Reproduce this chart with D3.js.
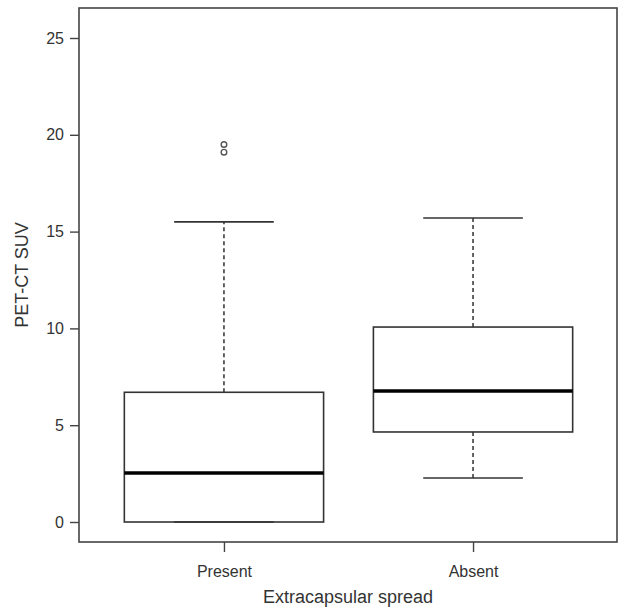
<!DOCTYPE html>
<html>
<head>
<meta charset="utf-8">
<script src="https://cdn.jsdelivr.net/npm/d3@7"></script>
<style>
  body { margin: 0; background: #fff; }
  text { font-family: "Liberation Sans", Arial, sans-serif; fill: #333; }
</style>
</head>
<body>
<svg id="chart" width="621" height="608"></svg>
<script>
// Box statistics
const groups = ["Present", "Absent"];
const lowerWhisker = [0, 2.27];
const q1 = [0, 4.65];
const median = [2.53, 6.77];
const q3 = [6.7, 10.07];
const upperWhisker = [15.5, 15.7];
const outliers = [[19.1, 19.5], []];
const yTicks = [0, 5, 10, 15, 20, 25];

const width = 621, height = 608;
const plot = { left: 79, right: 617, top: 8, bottom: 542 };

const svg = d3.select('#chart');

// R style: groups at 1..n, domain padded 4%
const xScale = d3.scaleLinear()
  .domain([0.418, 2.578])
  .range([plot.left, plot.right]);

const yScale = d3.scaleLinear()
  .domain([0, 25])
  .range([522, 38]);

const boxHalf = 0.4, capHalf = 0.2;
const ink = '#222';

// frame
svg.append('rect')
  .attr('x', plot.left).attr('y', plot.top)
  .attr('width', plot.right - plot.left).attr('height', plot.bottom - plot.top)
  .attr('fill', 'none').attr('stroke', '#444').attr('stroke-width', 1.6);

// y axis
const yAxis = svg.append('g')
  .attr('transform', `translate(${plot.left},0)`)
  .call(d3.axisLeft(yScale).tickValues(yTicks).tickSize(9).tickPadding(6));
yAxis.select('.domain').remove();
yAxis.selectAll('line').attr('stroke', '#444').attr('stroke-width', 1.4);
yAxis.selectAll('text').attr('font-size', 16).attr('fill', '#333')
  .style('font-family', '"Liberation Sans", Arial, sans-serif');

// x axis
const xAxis = svg.append('g')
  .attr('transform', `translate(0,${plot.bottom})`)
  .call(d3.axisBottom(xScale).tickValues([1, 2])
    .tickFormat((d) => groups[d - 1]).tickSize(10).tickPadding(14));
xAxis.select('.domain').remove();
xAxis.selectAll('line').attr('stroke', '#444').attr('stroke-width', 1.4);
xAxis.selectAll('text').attr('font-size', 16).attr('fill', '#333')
  .style('font-family', '"Liberation Sans", Arial, sans-serif');

// axis titles
svg.append('text')
  .attr('x', (plot.left + plot.right) / 2).attr('y', 603)
  .attr('text-anchor', 'middle').attr('font-size', 18)
  .text('Extracapsular spread');

svg.append('text')
  .attr('transform', `translate(28,${(plot.top + plot.bottom) / 2}) rotate(-90)`)
  .attr('text-anchor', 'middle').attr('font-size', 18)
  .text('PET-CT SUV');

// boxes
const boxes = svg.append('g')
  .selectAll('g')
  .data(groups.map((g, i) => ({ g, i, pos: i + 1 })))
  .join('g');

// whiskers (dashed)
boxes.append('line')
  .attr('x1', (d) => xScale(d.pos)).attr('x2', (d) => xScale(d.pos))
  .attr('y1', (d) => yScale(q3[d.i])).attr('y2', (d) => yScale(upperWhisker[d.i]))
  .attr('stroke', ink).attr('stroke-width', 1.4).attr('stroke-dasharray', '4,3');
boxes.append('line')
  .attr('x1', (d) => xScale(d.pos)).attr('x2', (d) => xScale(d.pos))
  .attr('y1', (d) => yScale(q1[d.i])).attr('y2', (d) => yScale(lowerWhisker[d.i]))
  .attr('stroke', ink).attr('stroke-width', 1.4).attr('stroke-dasharray', '4,3');

// caps
[upperWhisker, lowerWhisker].forEach((arr) => {
  boxes.append('line')
    .attr('x1', (d) => xScale(d.pos - capHalf)).attr('x2', (d) => xScale(d.pos + capHalf))
    .attr('y1', (d) => yScale(arr[d.i])).attr('y2', (d) => yScale(arr[d.i]))
    .attr('stroke', '#333').attr('stroke-width', 1.6);
});

// box
boxes.append('rect')
  .attr('x', (d) => xScale(d.pos - boxHalf))
  .attr('width', (d) => xScale(d.pos + boxHalf) - xScale(d.pos - boxHalf))
  .attr('y', (d) => yScale(q3[d.i]))
  .attr('height', (d) => yScale(q1[d.i]) - yScale(q3[d.i]))
  .attr('fill', 'none').attr('stroke', '#333').attr('stroke-width', 1.6);

// median
boxes.append('line')
  .attr('x1', (d) => xScale(d.pos - boxHalf)).attr('x2', (d) => xScale(d.pos + boxHalf))
  .attr('y1', (d) => yScale(median[d.i])).attr('y2', (d) => yScale(median[d.i]))
  .attr('stroke', '#000').attr('stroke-width', 3.5);

// outliers
boxes.selectAll('circle')
  .data((d) => outliers[d.i].map((v) => ({ v, pos: d.pos })))
  .join('circle')
  .attr('cx', (d) => xScale(d.pos)).attr('cy', (d) => yScale(d.v))
  .attr('r', 2.8).attr('fill', 'none').attr('stroke', '#555').attr('stroke-width', 1.4);
</script>
</body>
</html>
